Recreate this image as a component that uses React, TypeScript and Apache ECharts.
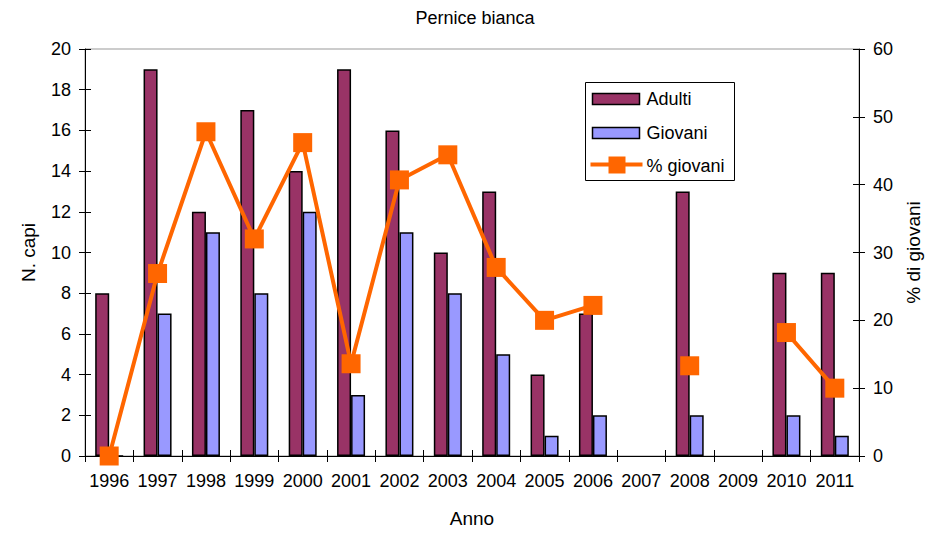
import React, { useEffect, useRef } from "react";
import * as echarts from "echarts";

const years = ["1996","1997","1998","1999","2000","2001","2002","2003","2004","2005","2006","2007","2008","2009","2010","2011"];
const adulti = [8, 19, 12, 17, 14, 19, 16, 10, 13, 4, 7, null, 13, null, 9, 9];
const giovani = [0, 7, 11, 8, 12, 3, 11, 8, 5, 1, 2, null, 2, null, 2, 1];
const percGiovani = [0, 26.9, 47.8, 32, 46.2, 13.6, 40.7, 44.4, 27.8, 20, 22.2, null, 13.3, null, 18.2, 10];
const legendNames = ["Adulti", "Giovani", "% giovani"];

const FONT = "'Liberation Sans', Arial, sans-serif";
const C_ADULTI = "#993366";
const C_GIOVANI = "#9999FF";
const C_PERC = "#FF6600";

export default function App() {
  const ref = useRef<HTMLDivElement>(null);
  useEffect(() => {
    document.body.style.margin = "0";
    const chart = echarts.init(ref.current!, undefined, { renderer: "svg" });
    const tickTxt = { color: "#000", fontSize: 18, fontFamily: FONT };
    const nameTxt = { color: "#000", fontSize: 19, fontFamily: FONT };
    const lx = 585, ly = 82;
    chart.setOption({
      animation: false,
      backgroundColor: "#fff",
      title: {
        text: "Pernice bianca",
        left: 470,
        textAlign: "center",
        top: 4,
        textStyle: { color: "#000", fontSize: 18, fontWeight: "normal", fontFamily: FONT },
      },
      grid: { left: 85, right: 82, top: 49, bottom: 76, show: true, borderColor: "#999", borderWidth: 1 },
      graphic: [
        {
          type: "group",
          left: lx,
          top: ly,
          z: 100,
          children: [
            { type: "rect", shape: { x: 0, y: 0, width: 149, height: 98 }, style: { fill: "#fff", stroke: "#000", lineWidth: 1 } },
            { type: "rect", shape: { x: 7, y: 11, width: 47, height: 11 }, style: { fill: C_ADULTI, stroke: "#000", lineWidth: 1.5 } },
            { type: "text", x: 61, y: 16, style: { text: legendNames[0], fill: "#000", font: "18px " + FONT, verticalAlign: "middle" } },
            { type: "rect", shape: { x: 7, y: 45, width: 47, height: 11 }, style: { fill: C_GIOVANI, stroke: "#000", lineWidth: 1.5 } },
            { type: "text", x: 61, y: 50, style: { text: legendNames[1], fill: "#000", font: "18px " + FONT, verticalAlign: "middle" } },
            { type: "line", shape: { x1: 5, y1: 82, x2: 57, y2: 82 }, style: { stroke: C_PERC, lineWidth: 4 } },
            { type: "rect", shape: { x: 23, y: 74, width: 17, height: 17 }, style: { fill: C_PERC } },
            { type: "text", x: 61, y: 83, style: { text: legendNames[2], fill: "#000", font: "18px " + FONT, verticalAlign: "middle" } },
          ],
        },
      ],
      xAxis: [
        {
          type: "category",
          data: years,
          name: "Anno",
          nameLocation: "middle",
          nameGap: 53,
          nameTextStyle: nameTxt,
          axisLine: { lineStyle: { color: "#000", width: 1 } },
          axisTick: { show: true, length: 6, lineStyle: { color: "#000" } },
          axisLabel: { ...tickTxt, margin: 16, interval: 0 },
          splitLine: { show: false },
        },
        {
          type: "category",
          data: years,
          position: "bottom",
          offset: 0,
          axisLine: { show: false },
          axisTick: { show: true, inside: true, length: 6, lineStyle: { color: "#000" } },
          axisLabel: { show: false },
          splitLine: { show: false },
        },
      ],
      yAxis: [
        {
          type: "value",
          min: 0,
          max: 20,
          interval: 2,
          name: "N. capi",
          nameLocation: "middle",
          nameGap: 47,
          nameRotate: 90,
          nameTextStyle: nameTxt,
          axisLine: { show: true, lineStyle: { color: "#000" } },
          axisTick: { show: true, length: 6, lineStyle: { color: "#000" } },
          axisLabel: { ...tickTxt, margin: 14 },
          splitLine: { show: false },
        },
        {
          type: "value",
          min: 0,
          max: 60,
          interval: 10,
          name: "% di giovani",
          nameLocation: "middle",
          nameGap: 44,
          nameRotate: 90,
          nameTextStyle: nameTxt,
          axisLine: { show: true, lineStyle: { color: "#000" } },
          axisTick: { show: true, length: 6, lineStyle: { color: "#000" } },
          axisLabel: { ...tickTxt, margin: 14 },
          splitLine: { show: false },
        },
        {
          type: "value",
          min: 0,
          max: 20,
          interval: 2,
          position: "left",
          offset: 0,
          axisLine: { show: false },
          axisTick: { show: true, inside: true, length: 6, lineStyle: { color: "#000" } },
          axisLabel: { show: false },
          splitLine: { show: false },
        },
        {
          type: "value",
          min: 0,
          max: 60,
          interval: 10,
          position: "right",
          offset: 0,
          axisLine: { show: false },
          axisTick: { show: true, inside: true, length: 6, lineStyle: { color: "#000" } },
          axisLabel: { show: false },
          splitLine: { show: false },
        },
      ],
      series: [
        {
          name: "Adulti",
          type: "bar",
          data: adulti,
          barWidth: 14,
          barGap: "0%",
          itemStyle: { color: C_ADULTI, borderColor: "#000", borderWidth: 1.5 },
        },
        {
          name: "Giovani",
          type: "bar",
          data: giovani,
          barWidth: 14,
          barGap: "0%",
          itemStyle: { color: C_GIOVANI, borderColor: "#000", borderWidth: 1.5 },
        },
        {
          name: "% giovani",
          type: "line",
          yAxisIndex: 1,
          data: percGiovani,
          connectNulls: false,
          symbol: "rect",
          symbolSize: 19,
          lineStyle: { color: C_PERC, width: 4 },
          itemStyle: { color: C_PERC },
          z: 5,
        },
      ],
    });
    return () => chart.dispose();
  }, []);
  return <div ref={ref} style={{ width: 941, height: 533 }} />;
}
